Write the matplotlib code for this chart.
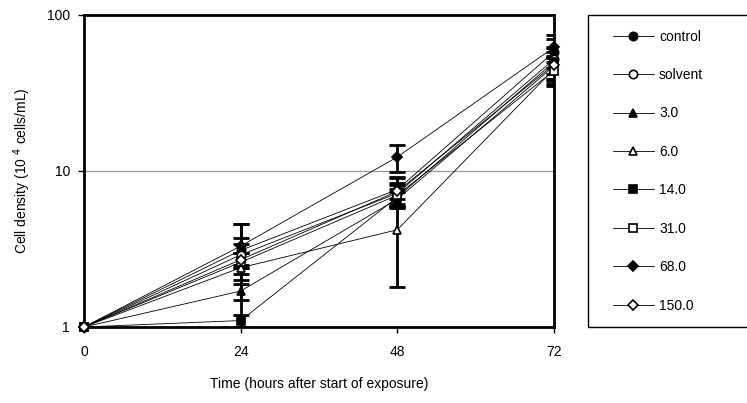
import matplotlib
matplotlib.use("Agg")
import matplotlib.pyplot as plt
from matplotlib.patches import Rectangle
from matplotlib.ticker import FixedLocator, NullLocator

plt.rcParams['font.family'] = ['Liberation Sans', 'DejaVu Sans']

hours = [0, 24, 48, 72]
labels = ['control', 'solvent', '3.0', '6.0', '14.0', '31.0', '68.0', '150.0']
markers = ['o', 'o', '^', '^', 's', 's', 'D', 'D']
filled = [True, False, True, False, True, False, True, False]

control = [1.0, 3.1, 7.6, 58]
solvent = [1.0, 2.9, 7.2, 52]
c3_0 = [1.0, 1.7, 6.6, 47]
c6_0 = [1.0, 2.4, 4.2, 45]
c14_0 = [1.0, 1.1, 6.8, 50]
c31_0 = [1.0, 2.6, 7.0, 44]
c68_0 = [1.0, 3.3, 12.3, 62]
c150_0 = [1.0, 2.7, 7.4, 48]

control_err = [0, 0.6, 1.5, 12]
solvent_err = [0, 0.5, 1.2, 10]
c3_0_err = [0, 0.2, 0.7, 8]
c6_0_err = [0, 2.2, 2.4, 9]
c14_0_err = [0, 0.1, 0.9, 11]
c31_0_err = [0, 0.4, 1.1, 9]
c68_0_err = [0, 1.3, 2.4, 12]
c150_0_err = [0, 0.3, 1.6, 10]

series = [control, solvent, c3_0, c6_0, c14_0, c31_0, c68_0, c150_0]
errors = [control_err, solvent_err, c3_0_err, c6_0_err, c14_0_err, c31_0_err, c68_0_err, c150_0_err]

fig = plt.figure(figsize=(7.47, 4.03), dpi=100)
ax = fig.add_axes([84/747, 76/403, 470/747, 312/403])

handles = []
for vals, err, lab, m, f in zip(series, errors, labels, markers, filled):
    ax.errorbar(hours, vals, yerr=err, fmt='none', ecolor='black',
                elinewidth=2, capsize=6, capthick=2, zorder=2)
    h, = ax.plot(hours, vals, color='black', lw=0.6, marker=m,
                 markersize=6 if m != 'D' else 5,
                 markerfacecolor='black' if f else 'white',
                 markeredgecolor='black', markeredgewidth=1.2,
                 label=lab, zorder=3, clip_on=False)
    handles.append(h)

ax.set_yscale('log')
ax.set_ylim(1, 100)
ax.set_xlim(0, 72)
ax.yaxis.set_major_locator(FixedLocator([1, 10, 100]))
ax.yaxis.set_minor_locator(NullLocator())
ax.set_yticklabels(['1', '10', '100'])
ax.set_xticks(hours)
ax.axhline(10, color='#999999', lw=0.9, zorder=1)
for s in ax.spines.values():
    s.set_linewidth(2)
ax.tick_params(axis='both', direction='out', length=4, width=1,
               labelsize=10, colors='black')
ax.tick_params(axis='x', pad=9)
ax.tick_params(axis='y', pad=6)
ax.set_xlabel('Time (hours after start of exposure)', fontsize=10, labelpad=13)
ax.set_ylabel('Cell density (10 $^{4}$ cells/mL)', fontsize=10, labelpad=10)

fig.patches.append(Rectangle((588/747, 76/403), 170/747, 312/403,
                             transform=fig.transFigure, fill=False,
                             edgecolor='black', lw=1))
fig.legend(handles=handles, loc='upper left',
           bbox_to_anchor=(607/747, 1 - 24/403), frameon=False,
           fontsize=10, handlelength=3.0, labelspacing=1.76,
           handletextpad=0.35, borderaxespad=0)

fig.savefig('out.png', dpi=100)
